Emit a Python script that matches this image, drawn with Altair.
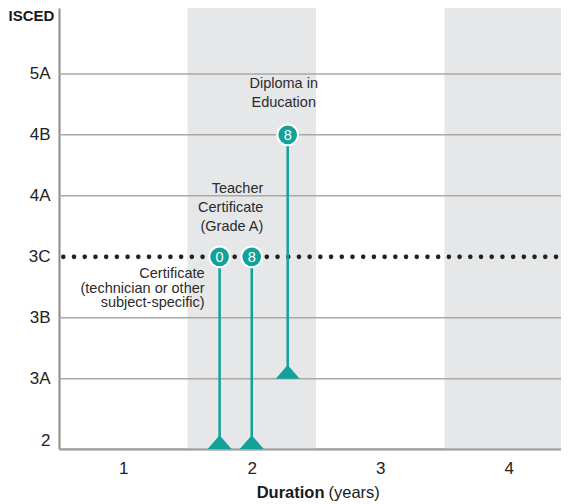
import json
import altair as alt
import pandas as pd

# ---- data ----
levels = ["2", "3A", "3B", "3C", "4A", "4B", "5A"]
level_pos = [0, 1.15, 2.15, 3.15, 4.15, 5.15, 6.15]
x_ticks = [1, 2, 3, 4]
band_start = [1.5, 3.5]
band_end = [2.5, 4.5]
prog_duration = [1.75, 2.0, 2.28]
prog_from = ["2", "2", "3A"]
prog_to = ["3C", "3C", "4B"]
prog_count = ["0", "8", "8"]
grid_levels = ["2", "3A", "3B", "4A", "4B", "5A"]
dotted_levels = ["3C"]
label_certificate = ["Certificate", "(technician or other", "subject-specific)"]
label_teacher = ["Teacher", "Certificate", "(Grade A)"]
label_diploma = ["Diploma in", "Education"]

FONT = "Liberation Sans"
TEAL = "#13a29a"
TXT = "#222222"

pos = dict(zip(levels, level_pos))

bands = pd.DataFrame({"start": band_start, "end": band_end})
grid = pd.DataFrame({"lev": [pos[l] for l in grid_levels]})
dotted = pd.DataFrame({"lev": [pos[l] for l in dotted_levels]})
prog = pd.DataFrame({
    "dur": prog_duration,
    "y0": [pos[l] for l in prog_from],
    "y1": [pos[l] for l in prog_to],
    "count": prog_count,
})

def ann(idx, lines):
    return pd.DataFrame({"dur": [prog_duration[idx]], "lev": [pos[prog_to[idx]]],
                         "text": ["\n".join(lines)]})

xscale = alt.Scale(domain=[0.5, 4.407], nice=False, zero=False)
yscale = alt.Scale(domain=[0, 7.23], nice=False, zero=False)

label_expr = "{}[indexof({}, datum.value)]".format(json.dumps(levels), json.dumps(level_pos))

x_axis = alt.Axis(values=x_ticks, format="d", title=None, ticks=False, tickSize=0, grid=False,
                  domainColor="#8a8a8a", domainWidth=2, labelFont=FONT, labelFontSize=17,
                  labelColor=TXT, labelPadding=11)
y_axis = alt.Axis(values=level_pos, labelExpr=label_expr, title="ISCED", ticks=False, tickSize=0,
                  grid=False, domainColor="#8a8a8a", domainWidth=2, labelFont=FONT,
                  labelFontSize=17, labelColor=TXT, labelPadding=9, labelFlush=True,
                  titleAngle=0, titleX=-28, titleY=7, titleAlign="center",
                  titleBaseline="middle", titleFont=FONT, titleFontSize=15,
                  titleFontWeight="bold", titleColor="#1a1a1a")

def X(field):
    return alt.X(field, scale=xscale, axis=x_axis)

def Y(field):
    return alt.Y(field, scale=yscale, axis=y_axis)

band_layer = alt.Chart(bands).mark_rect(color="#e6e7e8", clip=True).encode(
    x=X("start:Q"),
    x2="end:Q",
)

grid_layer = alt.Chart(grid).mark_rule(color="#a9a9a9", strokeWidth=1.5).encode(
    y=Y("lev:Q")
)

dotted_layer = alt.Chart(dotted).mark_rule(
    color="#222222", strokeWidth=4.6, strokeCap="round", strokeDash=[0.01, 10.7],
    strokeDashOffset=5.7
).encode(y=Y("lev:Q"))

stem_layer = alt.Chart(prog).mark_rule(color=TEAL, strokeWidth=2.5).encode(
    x=X("dur:Q"),
    y=Y("y0:Q"),
    y2="y1:Q",
)

tri_layer = alt.Chart(prog).mark_point(
    shape="M-1,0L1,0L0,-1.15Z", filled=True, size=576, color=TEAL, opacity=1
).encode(
    x=X("dur:Q"),
    y=Y("y0:Q"),
)

circle_layer = alt.Chart(prog).mark_point(
    shape="circle", filled=True, size=430, color=TEAL, opacity=1,
    stroke="white", strokeWidth=2
).encode(
    x=X("dur:Q"),
    y=Y("y1:Q"),
)

count_layer = alt.Chart(prog).mark_text(
    color="white", font=FONT, fontSize=14.5, align="center", baseline="middle", dy=1
).encode(
    x=X("dur:Q"),
    y=Y("y1:Q"),
    text="count:N",
)

def ann_layer(df, align, dx, dy, line_height):
    return alt.Chart(df).mark_text(
        font=FONT, fontSize=14.5, color="#2b2b2b", align=align, baseline="alphabetic",
        dx=dx, dy=dy, lineBreak="\n", lineHeight=line_height
    ).encode(
        x=X("dur:Q"),
        y=Y("lev:Q"),
        text="text:N",
    )

ann_cert = ann_layer(ann(0, label_certificate), "right", -15, 21.3, 14.5)
ann_teacher = ann_layer(ann(1, label_teacher), "right", 11.6, -63.7, 19)
ann_diploma = ann_layer(ann(2, label_diploma), "center", -4, -47.3, 19)

title_df = pd.DataFrame({"a": ["Duration"], "b": ["(years)"]})
title_bold = alt.Chart(title_df).mark_text(
    font=FONT, fontSize=16.5, fontWeight="bold", color="#1a1a1a", align="right",
    baseline="alphabetic"
).encode(x=alt.value(265.5), y=alt.value(490), text="a:N")
title_norm = alt.Chart(title_df).mark_text(
    font=FONT, fontSize=16.5, color="#1a1a1a", align="left", baseline="alphabetic"
).encode(x=alt.value(269.5), y=alt.value(490), text="b:N")

chart = alt.layer(
    band_layer, grid_layer, dotted_layer, stem_layer, tri_layer, circle_layer,
    count_layer, ann_cert, ann_teacher, ann_diploma, title_bold, title_norm
).properties(
    width=502, height=441,
    autosize=alt.AutoSizeParams(type="none"),
    padding={"left": 51, "top": 0, "right": 0, "bottom": 55},
    background="white",
).configure_view(stroke=None)

chart.save("out.html", embed_options={"renderer": "svg", "actions": False})
